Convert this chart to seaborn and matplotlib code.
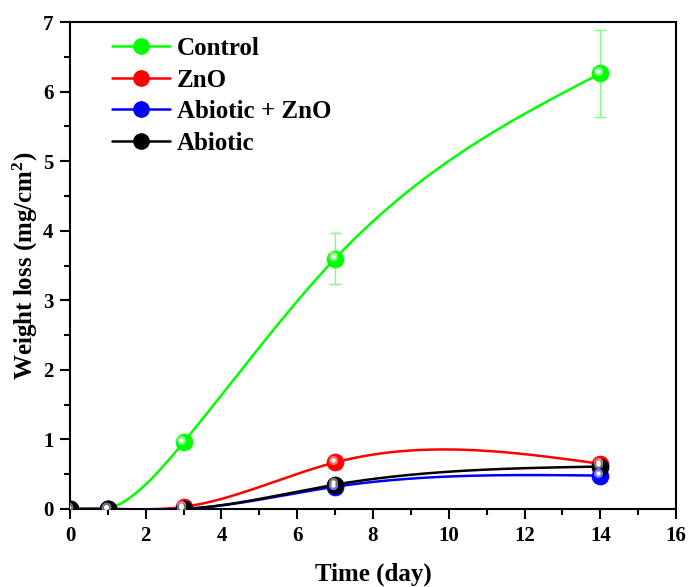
import numpy as np
import pandas as pd
import matplotlib
matplotlib.use("Agg")
import matplotlib.pyplot as plt
import matplotlib.transforms as mtransforms
from matplotlib.lines import Line2D
import seaborn as sns

# data
days = [0, 1, 3, 7, 14]
control = [0.0, 0.0, 0.96, 3.60, 6.26]
control_err = [0.0, 0.0, 0.0, 0.36, 0.62]
zno = [0.0, 0.0, 0.03, 0.67, 0.65]
abiotic_zno = [0.0, 0.0, 0.0, 0.32, 0.48]
abiotic = [0.0, 0.0, 0.0, 0.35, 0.61]

series = [
    ("Control", control, "#00ff00"),
    ("ZnO", zno, "#ff0000"),
    ("Abiotic + ZnO", abiotic_zno, "#0000ff"),
    ("Abiotic", abiotic, "#000000"),
]


def natural_spline(x, y, xs):
    """Natural cubic spline through (x, y), evaluated at xs."""
    x = np.asarray(x, float)
    y = np.asarray(y, float)
    n = len(x)
    h = np.diff(x)
    A = np.zeros((n, n))
    b = np.zeros(n)
    A[0, 0] = A[-1, -1] = 1.0
    for i in range(1, n - 1):
        A[i, i - 1] = h[i - 1]
        A[i, i] = 2 * (h[i - 1] + h[i])
        A[i, i + 1] = h[i]
        b[i] = 6 * ((y[i + 1] - y[i]) / h[i] - (y[i] - y[i - 1]) / h[i - 1])
    M = np.linalg.solve(A, b)
    idx = np.clip(np.searchsorted(x, xs) - 1, 0, n - 2)
    x0, x1 = x[idx], x[idx + 1]
    hh = x1 - x0
    t0, t1 = x1 - xs, xs - x0
    return (M[idx] * t0**3 / (6 * hh) + M[idx + 1] * t1**3 / (6 * hh)
            + (y[idx] / hh - M[idx] * hh / 6) * t0
            + (y[idx + 1] / hh - M[idx + 1] * hh / 6) * t1)


sns.set_style("ticks")
plt.rcParams["font.family"] = ["Liberation Serif", "DejaVu Serif"]
plt.rcParams["font.weight"] = "bold"
plt.rcParams["axes.labelweight"] = "bold"
plt.rcParams["mathtext.default"] = "regular"
plt.rcParams["text.color"] = "black"
plt.rcParams["axes.labelcolor"] = "black"
plt.rcParams["xtick.color"] = "black"
plt.rcParams["ytick.color"] = "black"
plt.rcParams["axes.edgecolor"] = "black"

fig = plt.figure(figsize=(6.88, 5.87), dpi=100)
ax = fig.add_axes([0.1017, 0.1329, 0.8809, 0.8296])

xs = np.linspace(0, 14, 400)
hl = ax.transData + mtransforms.ScaledTranslation(-1.6 / 72, 1.6 / 72, fig.dpi_scale_trans)

# error bars for the control series
ax.errorbar(days, control, yerr=control_err, fmt="none", ecolor="#7dff7d",
            elinewidth=1.0, capsize=4, capthick=1.0, zorder=2)

handles = []
for name, vals, col in series:
    curve = pd.DataFrame({"x": xs, "y": natural_spline(days, vals, xs)})
    sns.lineplot(data=curve, x="x", y="y", color=col, linewidth=1.8, ax=ax, zorder=3)
    pts = pd.DataFrame({"x": days, "y": vals})
    sns.scatterplot(data=pts, x="x", y="y", color=col, s=150, edgecolor=col,
                    linewidth=0.5, ax=ax, zorder=4)
    light = tuple(0.55 * np.array(matplotlib.colors.to_rgb(col)) + 0.45)
    ax.scatter(days, vals, s=45, color=light, linewidths=0, transform=hl, zorder=5)
    ax.scatter(days, vals, s=10, color="white", linewidths=0, transform=hl, zorder=6)
    handles.append(Line2D([], [], color=col, linewidth=1.8, marker="o",
                          markersize=11, markerfacecolor=col, markeredgecolor=col))

ax.set_xlim(0, 16)
ax.set_ylim(0, 7)
ax.set_xticks(np.arange(0, 17, 2))
ax.set_xticks(np.arange(1, 16, 2), minor=True)
ax.set_yticks(np.arange(0, 8, 1))
ax.set_yticks(np.arange(0.5, 7, 1), minor=True)
ax.tick_params(axis="both", which="major", direction="out", length=7, width=1.5,
               labelsize=15, top=False, right=False, pad=5)
ax.tick_params(axis="both", which="minor", direction="out", length=4, width=1.5,
               top=False, right=False)
for s in ax.spines.values():
    s.set_linewidth(1.5)
    s.set_visible(True)

ax.set_xlabel("Time (day)", fontsize=18, fontweight="bold", labelpad=12)
ax.set_ylabel("Weight loss (mg/cm$^2$)", fontsize=18, fontweight="bold", labelpad=2)

ax.legend(handles, [s[0] for s in series], loc="upper left", frameon=False,
          prop={"weight": "bold", "size": 18}, handlelength=2.3,
          handletextpad=0.3, labelspacing=0.34, borderaxespad=0.2,
          bbox_to_anchor=(0.045, 1.0))

fig.savefig("out.png", dpi=100)
